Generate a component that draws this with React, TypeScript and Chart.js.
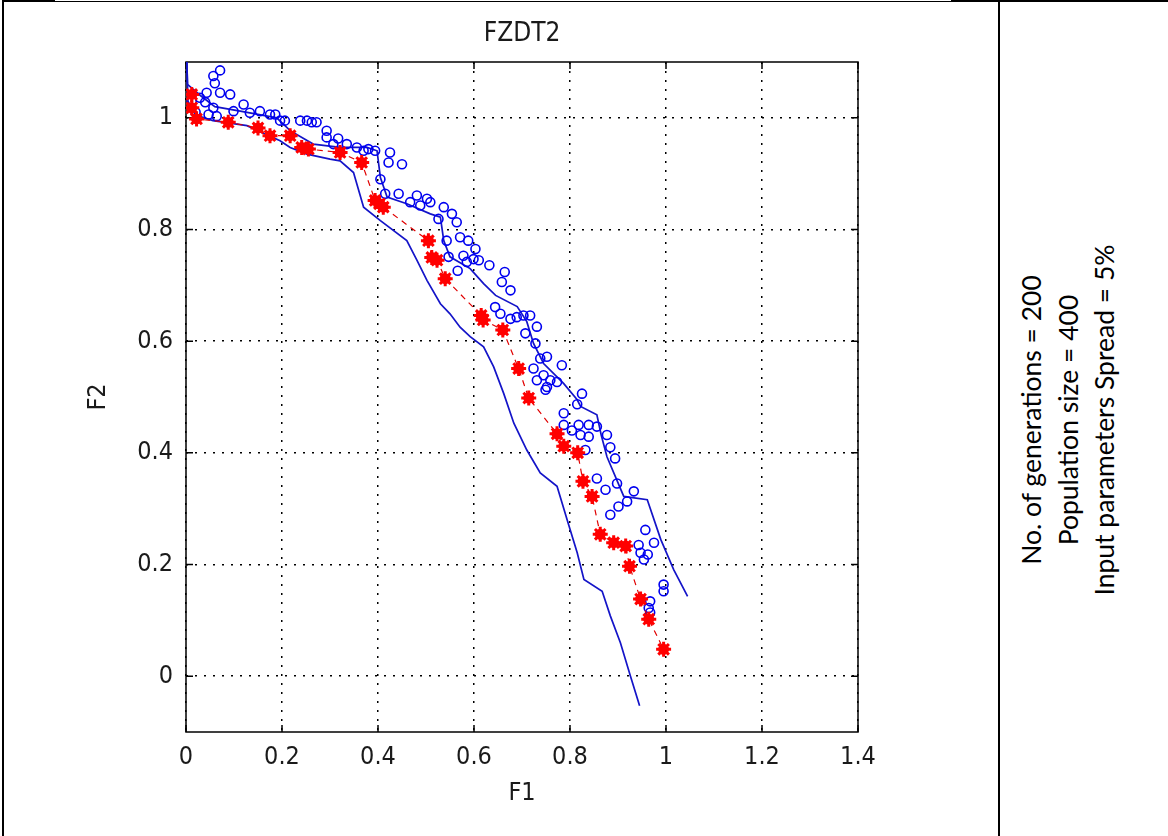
import React, { useEffect, useRef } from "react";
import Chart from "chart.js/auto";

const chartTitle = "FZDT2";
const xAxisTitle = "F1";
const yAxisTitle = "F2";
const xTicks = [0, 0.2, 0.4, 0.6, 0.8, 1, 1.2, 1.4];
const yTicks = [0, 0.2, 0.4, 0.6, 0.8, 1];
const sideNotes = [
  "No. of generations = 200",
  "Population size = 400",
  "Input parameters Spread = 5%",
];

// Red asterisk series (connected by dashed red line)
const redPoints: [number, number][] = [
  [0.012, 1.042], [0.012, 1.018], [0.022, 0.998], [0.088, 0.992], [0.15, 0.982],
  [0.175, 0.968], [0.217, 0.968], [0.241, 0.947], [0.255, 0.944], [0.321, 0.938],
  [0.366, 0.92], [0.394, 0.852], [0.403, 0.846], [0.411, 0.84], [0.505, 0.78],
  [0.512, 0.75], [0.523, 0.745], [0.54, 0.712], [0.615, 0.646], [0.619, 0.638],
  [0.66, 0.62], [0.693, 0.551], [0.714, 0.498], [0.773, 0.434], [0.787, 0.412],
  [0.816, 0.4], [0.827, 0.349], [0.846, 0.322], [0.863, 0.254], [0.891, 0.239],
  [0.916, 0.233], [0.924, 0.197], [0.947, 0.138], [0.964, 0.102], [0.995, 0.048],
];

// Blue circle series
const circlePoints: [number, number][] = [
  [0.071, 1.085], [0.057, 1.075], [0.06, 1.062], [0.043, 1.045], [0.029, 1.036],
  [0.04, 1.028], [0.071, 1.045], [0.092, 1.042], [0.057, 1.018], [0.047, 1.006],
  [0.064, 1.003], [0.012, 1.03], [0.02, 1.01], [0.099, 1.012], [0.12, 1.024],
  [0.133, 1.009], [0.154, 1.012], [0.175, 1.006], [0.186, 1.006], [0.196, 0.995],
  [0.206, 0.995], [0.238, 0.995], [0.252, 0.995], [0.262, 0.992], [0.272, 0.992],
  [0.293, 0.977], [0.293, 0.965], [0.307, 0.953], [0.317, 0.963], [0.335, 0.953],
  [0.356, 0.947], [0.37, 0.941], [0.38, 0.944], [0.394, 0.941], [0.425, 0.938],
  [0.422, 0.92], [0.45, 0.917], [0.405, 0.89], [0.415, 0.864], [0.443, 0.864],
  [0.481, 0.861], [0.467, 0.849], [0.488, 0.843], [0.509, 0.849], [0.502, 0.855],
  [0.526, 0.819], [0.537, 0.84], [0.554, 0.828], [0.564, 0.813], [0.571, 0.786],
  [0.588, 0.78], [0.543, 0.78], [0.603, 0.765], [0.547, 0.751], [0.578, 0.753],
  [0.599, 0.747], [0.585, 0.742], [0.61, 0.745], [0.566, 0.726], [0.632, 0.736],
  [0.664, 0.724], [0.658, 0.706], [0.676, 0.691], [0.644, 0.661], [0.655, 0.649],
  [0.676, 0.64], [0.689, 0.643], [0.703, 0.646], [0.717, 0.646], [0.731, 0.626],
  [0.707, 0.614], [0.728, 0.596], [0.752, 0.572], [0.738, 0.569], [0.783, 0.557],
  [0.724, 0.551], [0.745, 0.539], [0.759, 0.53], [0.773, 0.527], [0.731, 0.53],
  [0.749, 0.513], [0.752, 0.518], [0.825, 0.506], [0.815, 0.487], [0.787, 0.471],
  [0.787, 0.45], [0.804, 0.44], [0.818, 0.45], [0.839, 0.45], [0.856, 0.447],
  [0.822, 0.432], [0.839, 0.429], [0.877, 0.432], [0.884, 0.41], [0.894, 0.39],
  [0.832, 0.405], [0.856, 0.354], [0.874, 0.334], [0.898, 0.345], [0.933, 0.331],
  [0.919, 0.313], [0.901, 0.304], [0.884, 0.289], [0.957, 0.262], [0.975, 0.239],
  [0.943, 0.235], [0.947, 0.221], [0.962, 0.218], [0.954, 0.209], [0.995, 0.164],
  [0.995, 0.152], [0.967, 0.134], [0.964, 0.122], [0.967, 0.114],
];

// Upper bound (blue solid line)
const upperBound: [number, number][] = [
  [0, 1.16], [0.003, 1.06], [0.03, 1.04], [0.06, 1.02], [0.113, 1.012],
  [0.189, 1.0], [0.217, 0.977], [0.265, 0.953], [0.321, 0.947], [0.377, 0.947],
  [0.398, 0.941], [0.405, 0.893], [0.419, 0.858], [0.46, 0.846], [0.509, 0.828],
  [0.53, 0.822], [0.537, 0.78], [0.55, 0.751], [0.592, 0.73], [0.62, 0.703],
  [0.645, 0.682], [0.69, 0.662], [0.71, 0.635], [0.724, 0.596], [0.745, 0.56],
  [0.787, 0.524], [0.815, 0.495], [0.822, 0.483], [0.856, 0.468], [0.865, 0.432],
  [0.877, 0.393], [0.912, 0.322], [0.961, 0.316], [0.989, 0.245], [1.016, 0.191],
  [1.045, 0.143],
];

// Lower bound (blue solid line)
const lowerBound: [number, number][] = [
  [0, 1.16], [0.004, 1.03], [0.02, 1.005], [0.056, 0.995], [0.127, 0.986],
  [0.196, 0.959], [0.217, 0.947], [0.252, 0.935], [0.3, 0.926], [0.321, 0.923],
  [0.349, 0.902], [0.37, 0.84], [0.405, 0.816], [0.46, 0.78], [0.481, 0.745],
  [0.502, 0.709], [0.53, 0.667], [0.55, 0.649], [0.571, 0.625], [0.592, 0.608],
  [0.62, 0.59], [0.641, 0.554], [0.662, 0.506], [0.683, 0.453], [0.71, 0.405],
  [0.738, 0.364], [0.773, 0.34], [0.794, 0.28], [0.815, 0.221], [0.829, 0.173],
  [0.867, 0.152], [0.884, 0.108], [0.905, 0.06], [0.926, 0.0], [0.945, -0.053],
];

const toXY = (arr: [number, number][]) => arr.map(([x, y]) => ({ x, y }));
const fmt = (v: number) => String(Number(v.toFixed(1)));
const AXIS_FONT = "'DejaVu Sans Condensed', 'Liberation Sans', sans-serif";
const TXT = "#1a1a1a";

const framePlugin = {
  id: "matlabFrame",
  beforeDatasetsDraw(chart: any) {
    const { ctx, chartArea: a, scales } = chart;
    ctx.save();
    ctx.setLineDash([]);
    ctx.strokeStyle = "#000";
    ctx.lineWidth = 1.5;
    ctx.strokeRect(a.left, a.top, a.right - a.left, a.bottom - a.top);
    const L = 7;
    ctx.beginPath();
    scales.x.ticks.forEach((t: any) => {
      const p = scales.x.getPixelForValue(t.value);
      ctx.moveTo(p, a.bottom); ctx.lineTo(p, a.bottom - L);
      ctx.moveTo(p, a.top); ctx.lineTo(p, a.top + L);
    });
    scales.y.ticks.forEach((t: any) => {
      const p = scales.y.getPixelForValue(t.value);
      ctx.moveTo(a.left, p); ctx.lineTo(a.left + L, p);
      ctx.moveTo(a.right, p); ctx.lineTo(a.right - L, p);
    });
    ctx.stroke();
    ctx.restore();
  },
};

export default function App() {
  const ref = useRef<HTMLCanvasElement | null>(null);

  useEffect(() => {
    if (!ref.current) return;
    const chart = new Chart(ref.current, {
      type: "scatter",
      data: {
        datasets: [
          {
            label: "best-star",
            data: toXY(redPoints),
            pointStyle: "star",
            pointRadius: 7.5,
            pointBorderWidth: 3,
            pointBorderColor: "#ff0000",
            pointBackgroundColor: "#ff0000",
            showLine: false,
            order: 0,
          },
          {
            label: "best",
            data: toXY(redPoints),
            pointStyle: "circle",
            pointRadius: 5.5,
            pointBorderWidth: 0,
            pointBackgroundColor: "#ff0000",
            showLine: true,
            borderColor: "#e00000",
            borderWidth: 1.2,
            borderDash: [6, 5],
            order: 1,
          },
          {
            label: "population",
            data: toXY(circlePoints),
            pointStyle: "circle",
            pointRadius: 4.5,
            pointBorderWidth: 1.6,
            pointBorderColor: "#0000f0",
            pointBackgroundColor: "rgba(0,0,0,0)",
            showLine: false,
            order: 2,
          },
          {
            label: "upper",
            data: toXY(upperBound),
            pointRadius: 0,
            showLine: true,
            borderColor: "#1414c8",
            borderWidth: 1.7,
            clip: 0,
            order: 3,
          },
          {
            label: "lower",
            data: toXY(lowerBound),
            pointRadius: 0,
            showLine: true,
            borderColor: "#1414c8",
            borderWidth: 1.7,
            clip: 0,
            order: 3,
          },
        ],
      },
      options: {
        animation: false,
        responsive: false,
        maintainAspectRatio: false,
        events: [],
        layout: { padding: { left: 0, right: 142, top: 0, bottom: 0 } },
        plugins: {
          legend: { display: false },
          tooltip: { enabled: false },
          title: {
            display: true,
            fullSize: false,
            text: chartTitle,
            color: TXT,
            font: { family: AXIS_FONT, size: 26, weight: "normal", lineHeight: 1.2 },
            padding: { top: 19, bottom: 11.8 },
          },
        },
        scales: {
          x: {
            type: "linear",
            min: 0,
            max: 1.4,
            afterBuildTicks: (s: any) => { s.ticks = xTicks.map((v) => ({ value: v })); },
            afterFit: (s: any) => { s.height = 104; },
            ticks: {
              color: TXT,
              padding: 10,
              font: { family: AXIS_FONT, size: 25, lineHeight: 1.2 },
              callback: (v: any) => fmt(Number(v)),
              maxRotation: 0,
              autoSkip: false,
            },
            grid: { color: "#000", lineWidth: 1.5, drawTicks: false },
            border: { display: false, dash: [2, 7] },
            title: {
              display: true,
              text: xAxisTitle,
              color: TXT,
              font: { family: AXIS_FONT, size: 25, lineHeight: 1.2 },
              padding: { top: 0, bottom: 28 },
            },
          },
          y: {
            type: "linear",
            min: -0.1,
            max: 1.1,
            afterBuildTicks: (s: any) => { s.ticks = yTicks.map((v) => ({ value: v })); },
            afterFit: (s: any) => { s.width = 186; },
            ticks: {
              color: TXT,
              padding: 13,
              font: { family: AXIS_FONT, size: 25, lineHeight: 1.2 },
              callback: (v: any) => fmt(Number(v)),
              autoSkip: false,
            },
            grid: { color: "#000", lineWidth: 1.5, drawTicks: false },
            border: { display: false, dash: [2, 7] },
            title: {
              display: true,
              text: yAxisTitle,
              color: TXT,
              font: { family: AXIS_FONT, size: 25, lineHeight: 1.2 },
              padding: { top: 83, bottom: 0 },
            },
          },
        },
      },
      plugins: [framePlugin],
    } as any);
    return () => chart.destroy();
  }, []);

  return (
    <div style={{ position: "fixed", left: 0, top: 0, width: 1168, height: 836, background: "#fff", overflow: "hidden" }}>
      <canvas ref={ref} width={1000} height={836} style={{ position: "absolute", left: 0, top: 0, width: 1000, height: 836 }} />
      {/* table borders */}
      <div style={{ position: "absolute", left: 2, top: 0, width: 53, height: 2, background: "#000" }} />
      <div style={{ position: "absolute", left: 55, top: 1, width: 896, height: 1, background: "#000" }} />
      <div style={{ position: "absolute", left: 951, top: 0, width: 217, height: 2, background: "#000" }} />
      <div style={{ position: "absolute", left: 2, top: 0, width: 2, height: 836, background: "#000" }} />
      <div style={{ position: "absolute", left: 998, top: 0, width: 2, height: 836, background: "#000" }} />
      <div
        style={{
          position: "absolute",
          left: 1068,
          top: 420,
          transform: "translate(-50%, -50%) rotate(-90deg)",
          whiteSpace: "nowrap",
          textAlign: "center",
          fontFamily: "Lato, 'Open Sans', sans-serif",
          fontSize: 26.5,
          lineHeight: "36.5px",
          color: "#000",
        }}
      >
        {sideNotes.map((s) => (
          <div key={s}>{s}</div>
        ))}
      </div>
    </div>
  );
}
